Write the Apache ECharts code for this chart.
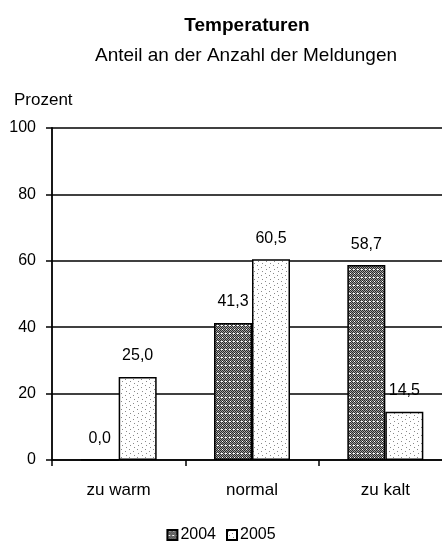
<!DOCTYPE html>
<html><head><meta charset="utf-8">
<script src="https://cdn.jsdelivr.net/npm/echarts@6/dist/echarts.min.js"></script>
<style>html,body{margin:0;padding:0;background:#fff}#c{width:442px;height:549px}</style>
</head><body><div id="c"></div>
<script>
const categories = ['zu warm', 'normal', 'zu kalt'];
const values2004 = [0.0, 41.3, 58.7];
const values2005 = [25.0, 60.5, 14.5];
const yTicks = [0, 20, 40, 60, 80, 100];

function makePattern(kind) {
  const c = document.createElement('canvas');
  c.width = 8; c.height = 8;
  const g = c.getContext('2d');
  if (kind === 'dark') {
    for (let y = 0; y < 8; y++) for (let x = 0; x < 8; x++) {
      g.fillStyle = ((x + y) % 2 === 0) ? '#2a2a2a' : '#a0a0a0';
      g.fillRect(x, y, 1, 1);
    }
    g.fillStyle = '#fff';
    g.fillRect(2, 1, 1, 1);
    g.fillRect(6, 1, 1, 1);
    g.fillRect(1, 5, 2, 1);
    g.fillRect(5, 5, 2, 1);
  } else {
    g.fillStyle = '#fff';
    g.fillRect(0, 0, 8, 8);
    g.fillStyle = '#8a8a8a';
    g.fillRect(1, 1, 1, 1);
    g.fillRect(5, 3, 1, 1);
    g.fillRect(2, 5, 1, 1);
    g.fillRect(6, 7, 1, 1);
  }
  return c;
}

const font = 'Liberation Sans, Arial, sans-serif';
const fmt = p => p.value.toFixed(1).replace('.', ',');
const chart = echarts.init(document.getElementById('c'), null, {renderer: 'canvas'});
chart.setOption({
  animation: false,
  backgroundColor: '#fff',
  title: [
    {text: 'Temperaturen', left: 242, top: 11, textAlign: 'center',
     textStyle: {fontFamily: font, fontSize: 19, fontWeight: 'bold', color: '#000'}},
    {text: 'Anteil an der Anzahl der Meldungen', left: 241, top: 41, textAlign: 'center',
     textStyle: {fontFamily: font, fontSize: 19, fontWeight: 'normal', color: '#000'}},
    {text: 'Prozent', left: 9, top: 87,
     textStyle: {fontFamily: font, fontSize: 17, fontWeight: 'normal', color: '#000'}}
  ],
  legend: {
    bottom: 1, left: 'center', itemWidth: 10, itemHeight: 10, itemGap: 10,
    icon: 'rect',
    textStyle: {fontFamily: font, fontSize: 16, color: '#000', padding: [0, 0, 0, -2]},
    data: ['2004', '2005']
  },
  grid: {left: 52, width: 400, top: 128, height: 332, containLabel: false, outerBoundsMode: 'none'},
  xAxis: {
    type: 'category', data: categories,
    axisLine: {lineStyle: {color: '#000', width: 1.5}},
    axisTick: {show: true, length: 6, lineStyle: {color: '#000', width: 1.5}},
    axisLabel: {fontFamily: font, fontSize: 17, color: '#000', margin: 22}
  },
  yAxis: {
    type: 'value', min: 0, max: 100, interval: 20,
    axisLine: {show: true, lineStyle: {color: '#000', width: 1.8}},
    axisTick: {show: true, length: 6, inside: false, lineStyle: {color: '#000', width: 1.5}},
    splitLine: {show: true, lineStyle: {color: '#000', width: 1.5}},
    axisLabel: {fontFamily: font, fontSize: 16, color: '#000', margin: 16,
      formatter: v => yTicks.includes(v) ? String(v) : ''}
  },
  series: [
    {name: '2004', type: 'bar', data: values2004, barWidth: 38, barGap: '0%',
     itemStyle: {color: {image: makePattern('dark'), repeat: 'repeat'}, borderColor: '#000', borderWidth: 1.5},
     label: {show: true, position: 'top', distance: 13, formatter: fmt, fontFamily: font, fontSize: 16, color: '#000'}},
    {name: '2005', type: 'bar', data: values2005, barWidth: 38,
     itemStyle: {color: {image: makePattern('light'), repeat: 'repeat'}, borderColor: '#000', borderWidth: 1.5},
     label: {show: true, position: 'top', distance: 13, formatter: fmt, fontFamily: font, fontSize: 16, color: '#000'}}
  ]
});
</script></body></html>
